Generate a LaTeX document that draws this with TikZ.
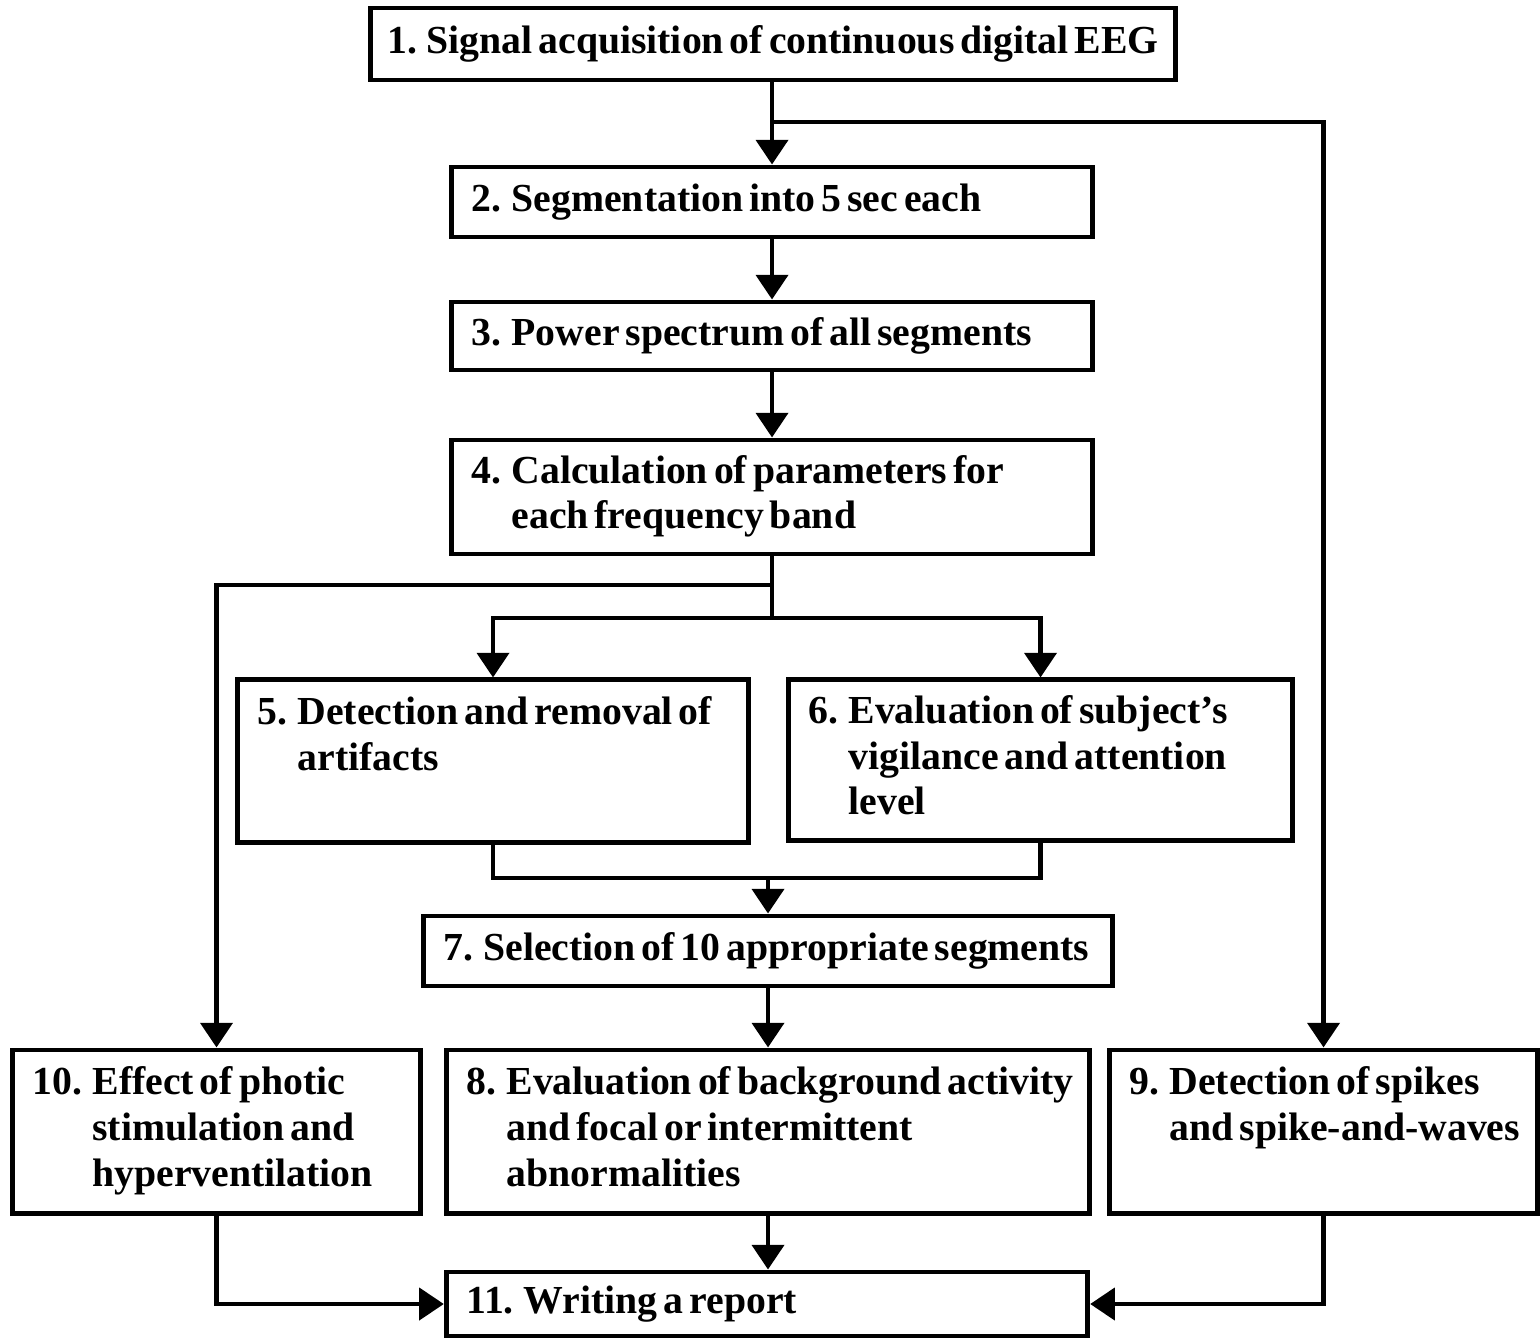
\documentclass[tikz,border=0pt]{standalone}
\usepackage{fontspec}
\setmainfont[WordSpace=0.6]{Liberation Serif}
\usetikzlibrary{arrows.meta}

\newcommand{\stagefont}{\fontsize{11.3}{13}\selectfont\bfseries}
\newcommand{\stagetxt}[2]{\spaceskip=0pt\xspaceskip=0pt%
    \begin{tabular}{@{}l@{\hspace{0.25em}}l@{}}#1 & #2\end{tabular}}

\tikzset{
    stagebox/.style={draw, line width=1.4pt, inner xsep=0.2cm, inner ysep=0pt, align=left, font=\stagefont},
    link/.style={line width=1.4pt},
    flow/.style={line width=1.4pt, -{Triangle[length=7pt,width=9pt]}}
}

\begin{document}
\begin{tikzpicture}[x=0.01cm,y=-0.01cm]

\useasboundingbox[fill=white] (0,0) rectangle (1540,1340);

% main column
\node[stagebox, inner xsep=0.1cm, minimum width=8.05cm, minimum height=0.72cm] (acq) at (773,44) {1. Signal acquisition of continuous digital EEG};
\node[stagebox, text width=6.00cm, minimum height=0.70cm] (seg) at (772,202) {\stagetxt{2.}{Segmentation into 5 sec each}};
\node[stagebox, text width=6.00cm, minimum height=0.68cm] (power) at (772,336) {\stagetxt{3.}{Power spectrum of all segments}};
\node[stagebox, text width=6.00cm, minimum height=1.14cm] (param) at (772,497) {\stagetxt{4.}{Calculation of parameters for\\ & each frequency band}};

% artifacts and vigilance
\node[stagebox, text width=4.70cm, minimum height=1.62cm] (artif) at (493,761) {\stagetxt{5.}{Detection and removal of\\ & artifacts\\ & \mbox{}}};
\node[stagebox, text width=4.63cm, minimum height=1.60cm] (vigil) at (1040.5,760) {\stagetxt{6.}{Evaluation of subject's\\ & vigilance and attention\\ & level}};

\node[stagebox, text width=6.48cm, minimum height=0.70cm] (select) at (768,951) {\stagetxt{7.}{Selection of 10 appropriate segments}};

% bottom row
\node[stagebox, text width=3.67cm, minimum height=1.63cm] (photic) at (216.5,1131.5) {\stagetxt{10.}{Effect of photic\\ & stimulation and\\ & hyperventilation}};
\node[stagebox, text width=6.02cm, minimum height=1.63cm] (backgr) at (768,1131.5) {\stagetxt{8.}{Evaluation of background activity\\ & and focal or intermittent\\ & abnormalities}};
\node[stagebox, text width=3.87cm, minimum height=1.63cm] (spikes) at (1323.5,1131.5) {\stagetxt{9.}{Detection of spikes\\ & and spike-and-waves\\ & \mbox{}}};

\node[stagebox, text width=6.01cm, minimum height=0.64cm] (report) at (767,1304) {\stagetxt{11.}{Writing a report}};

% connectors
\coordinate (split1) at (772,122);
\coordinate (split2) at (772,585);
\coordinate (fork) at (772,618);
\coordinate (join) at (768,878);

\draw[flow] (acq.south -| seg.north) -- (seg);
\draw[flow] (split1) -| (spikes.north);
\draw[flow] (seg) -- (power);
\draw[flow] (power) -- (param);

\draw[link] (param.south) -- (fork);
\draw[flow] (split2) -| (photic.north);
\draw[flow] (fork) -| (artif.north);
\draw[flow] (fork) -| (vigil.north);

\draw[link] (artif.south) |- (vigil.south |- join) -- (vigil.south);
\draw[flow] (join) -- (select.north);

\draw[flow] (select.south) -- (select.south |- backgr.north);
\draw[flow] (backgr.south) -- (backgr.south |- report.north);
\draw[flow] (photic.south) |- (report.west);
\draw[flow] (spikes.south) |- (report.east);

\end{tikzpicture}
\end{document}
